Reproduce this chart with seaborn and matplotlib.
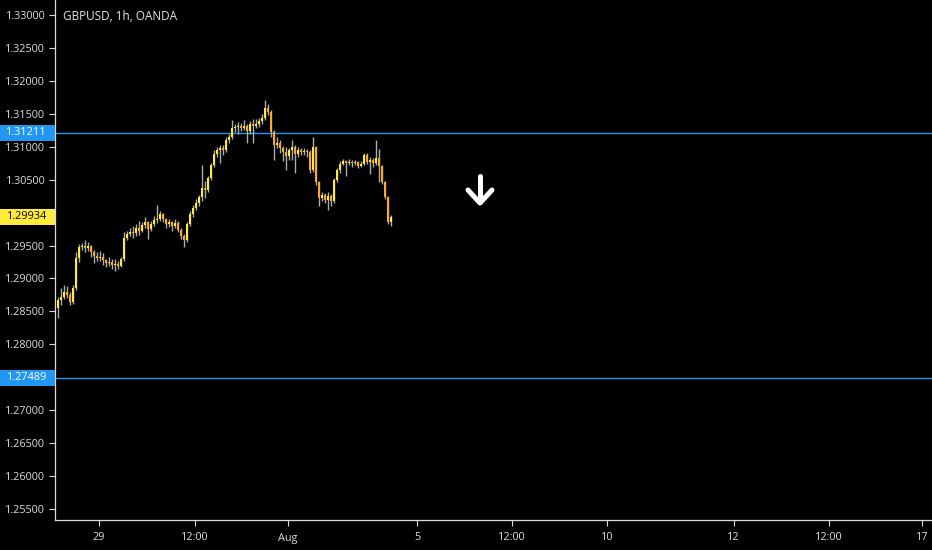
import numpy as np
import pandas as pd
import matplotlib
matplotlib.use("Agg")
import matplotlib.pyplot as plt
import seaborn as sns
from matplotlib.patches import Rectangle
from matplotlib.transforms import blended_transform_factory

# --- DATA (1h candles) ---
chart_title = "GBPUSD, 1h, OANDA"
first_open = 1.28550
closes = [
    1.28673, 1.28718, 1.28794, 1.28748, 1.28642, 1.28855, 1.29310, 1.29477, 1.29492, 1.29462,
    1.29492, 1.29401, 1.29341, 1.29310, 1.29325, 1.29280, 1.29234, 1.29250, 1.29204, 1.29219,
    1.29189, 1.29295, 1.29614, 1.29675, 1.29705, 1.29690, 1.29766, 1.29720, 1.29811, 1.29857,
    1.29751, 1.29827, 1.29887, 1.29902, 1.29978, 1.29902, 1.29827, 1.29857, 1.29796, 1.29842,
    1.29735, 1.29644, 1.29584, 1.29827, 1.29978, 1.30069, 1.30145, 1.30236, 1.30373, 1.30343,
    1.30525, 1.30722, 1.30889, 1.30950, 1.30981, 1.30950, 1.31102, 1.31148, 1.31284, 1.31299,
    1.31315, 1.31284, 1.31315, 1.31239, 1.31345, 1.31315, 1.31345, 1.31390, 1.31436, 1.31588,
    1.31527, 1.31223, 1.31026, 1.31056, 1.30981, 1.30920, 1.30859, 1.30950, 1.30996, 1.30889,
    1.30950, 1.30920, 1.30935, 1.30920, 1.30646, 1.30996, 1.30464, 1.30221, 1.30267, 1.30191,
    1.30252, 1.30176, 1.30495, 1.30646, 1.30738, 1.30783, 1.30753, 1.30768, 1.30753, 1.30768,
    1.30707, 1.30738, 1.30874, 1.30768, 1.30798, 1.30753, 1.30829, 1.30707, 1.30464, 1.30236,
    1.29857, 1.29934,
]
highs = [
    1.28720, 1.28850, 1.28900, 1.28880, 1.28800, 1.28900, 1.29400, 1.29520, 1.29540, 1.29580,
    1.29550, 1.29510, 1.29430, 1.29400, 1.29420, 1.29380, 1.29300, 1.29330, 1.29290, 1.29300,
    1.29260, 1.29330, 1.29700, 1.29720, 1.29760, 1.29790, 1.29830, 1.29880, 1.29850, 1.29930,
    1.29880, 1.29870, 1.29950, 1.30115, 1.30030, 1.30000, 1.29920, 1.29910, 1.29880, 1.29900,
    1.29870, 1.29760, 1.29670, 1.29850, 1.30020, 1.30110, 1.30200, 1.30260, 1.30720, 1.30480,
    1.30560, 1.30760, 1.30950, 1.31000, 1.31030, 1.31020, 1.31150, 1.31200, 1.31406, 1.31350,
    1.31380, 1.31360, 1.31400, 1.31340, 1.31390, 1.31420, 1.31420, 1.31440, 1.31500, 1.31709,
    1.31650, 1.31560, 1.31250, 1.31150, 1.31100, 1.31010, 1.31000, 1.30980, 1.31100, 1.31030,
    1.30990, 1.30980, 1.30980, 1.30970, 1.30950, 1.31148, 1.31010, 1.30480, 1.30320, 1.30300,
    1.30320, 1.30280, 1.30520, 1.30680, 1.30780, 1.30820, 1.30800, 1.30810, 1.30800, 1.30800,
    1.30790, 1.30780, 1.30910, 1.30900, 1.30840, 1.30830, 1.31102, 1.30960, 1.30720, 1.30480,
    1.30250, 1.29960,
]
lows = [
    1.28400, 1.28600, 1.28690, 1.28700, 1.28600, 1.28620, 1.28830, 1.29250, 1.29430, 1.29400,
    1.29420, 1.29330, 1.29230, 1.29260, 1.29270, 1.29200, 1.29180, 1.29190, 1.29150, 1.29120,
    1.29140, 1.29170, 1.29260, 1.29590, 1.29640, 1.29620, 1.29650, 1.29660, 1.29700, 1.29760,
    1.29600, 1.29720, 1.29800, 1.29840, 1.29870, 1.29850, 1.29760, 1.29780, 1.29720, 1.29760,
    1.29700, 1.29600, 1.29480, 1.29560, 1.29800, 1.29940, 1.30040, 1.30100, 1.30180, 1.30220,
    1.30310, 1.30500, 1.30700, 1.30850, 1.30750, 1.30880, 1.30920, 1.31060, 1.31120, 1.31230,
    1.31200, 1.31240, 1.31250, 1.31050, 1.31200, 1.31060, 1.31280, 1.31300, 1.31350, 1.31400,
    1.31480, 1.31150, 1.30800, 1.30980, 1.30900, 1.30780, 1.30650, 1.30800, 1.30800, 1.30600,
    1.30850, 1.30870, 1.30880, 1.30850, 1.30600, 1.30620, 1.30420, 1.30100, 1.30180, 1.30150,
    1.30040, 1.30100, 1.30150, 1.30460, 1.30600, 1.30720, 1.30560, 1.30720, 1.30700, 1.30730,
    1.30680, 1.30690, 1.30720, 1.30740, 1.30580, 1.30700, 1.30720, 1.30460, 1.30430, 1.30200,
    1.29820, 1.29800,
]
level_prices = [1.31211, 1.27489]
last_price = 1.29934
y_tick_values = [1.25500, 1.26000, 1.26500, 1.27000, 1.27500, 1.28000, 1.28500, 1.29000,
                 1.29500, 1.30000, 1.30500, 1.31000, 1.31500, 1.32000, 1.32500, 1.33000]
x_tick_labels = ["29", "12:00", "Aug", "5", "12:00", "10", "12", "12:00", "17"]

# --- LAYOUT ---
x_tick_pos = [13.7, 45.7, 76.7, 119.7, 151.3, 183.0, 225.2, 257.0, 288.0]
Y_MIN, Y_MAX = 1.25333, 1.33228
FG = "#dcdcdc"
UP, DOWN, WICK = "#ffeb3b", "#ffa726", "#acacac"
LINE_BLUE = "#2196f3"

df = pd.DataFrame({"close": closes, "high": highs, "low": lows})
df["open"] = [first_open] + closes[:-1]
df["bar"] = np.arange(len(df))
df["up"] = df["close"] >= df["open"]

sns.set_theme(style="dark", rc={
    "axes.facecolor": "black", "figure.facecolor": "black",
    "axes.edgecolor": FG, "xtick.color": FG, "ytick.color": FG,
    "text.color": FG, "axes.grid": False,
})
plt.rcParams["font.family"] = ["Open Sans", "DejaVu Sans"]

fig = plt.figure(figsize=(9.32, 5.5), dpi=100)
ax = fig.add_axes([55 / 932, 30 / 550, 877 / 932, 520 / 550])

# wicks then bodies
ax.vlines(df["bar"], df["low"], df["high"], color=WICK, linewidth=1.0, zorder=2)
body = (df["close"] - df["open"]).where(lambda s: s.abs() > 0.00005, 0.00005)
ax.bar(df["bar"], body, bottom=df["open"], width=0.85,
       color=np.where(df["up"], UP, DOWN), linewidth=0, zorder=3)

for p in level_prices:
    ax.axhline(p, color=LINE_BLUE, linewidth=1, zorder=1)

ax.set_xlim(-1, 291.33)
ax.set_ylim(Y_MIN, Y_MAX)

# price boxes sit on top of these two axis labels in the reference
px_per_unit = 520 / (Y_MAX - Y_MIN)
box_h = 16 / px_per_unit
covered = [last_price, level_prices[1]]
ax.set_yticks(y_tick_values)
ax.set_yticklabels(["" if any(abs(v - c) < box_h / 2 for c in covered) else f"{v:.5f}"
                    for v in y_tick_values])
ax.set_xticks(x_tick_pos)
ax.set_xticklabels(x_tick_labels)
ax.tick_params(axis="y", length=4, width=0.8, pad=3, labelsize=7.8, left=True)
ax.tick_params(axis="x", length=4, width=0.8, pad=5, labelsize=7.8, bottom=True)
for side in ["top", "right"]:
    ax.spines[side].set_visible(False)
ax.spines["left"].set_linewidth(0.9)
ax.spines["bottom"].set_linewidth(0.9)

# price labels on the axis
trans = blended_transform_factory(ax.transAxes, ax.transData)
for price, bg, fgc in [(level_prices[0], LINE_BLUE, "white"),
                       (level_prices[1], LINE_BLUE, "white"),
                       (last_price, UP, "black")]:
    ax.add_patch(Rectangle((-55 / 877, price - box_h / 2), 55 / 877, box_h,
                           transform=trans, facecolor=bg, edgecolor="none",
                           clip_on=False, zorder=6))
    ax.text(-8 / 877, price, f"{price:.5f}", transform=trans, ha="right", va="center",
            fontsize=7.8, color=fgc, clip_on=False, zorder=7)

ax.text(8 / 877, 1 - 17 / 520, chart_title, transform=ax.transAxes,
        ha="left", va="center", fontsize=8.5, color="#e6e6e6")

# white down arrow
arrow_kw = dict(color="white", linewidth=3.6, solid_capstyle="round",
                solid_joinstyle="round", transform=ax.transAxes, zorder=5)
ax.plot([425 / 877, 425 / 877], [(520 - 176) / 520, (520 - 202) / 520], **arrow_kw)
ax.plot([413 / 877, 425 / 877, 437 / 877],
        [(520 - 190) / 520, (520 - 203) / 520, (520 - 190) / 520], **arrow_kw)

fig.savefig("out.png", dpi=100, facecolor="black")
